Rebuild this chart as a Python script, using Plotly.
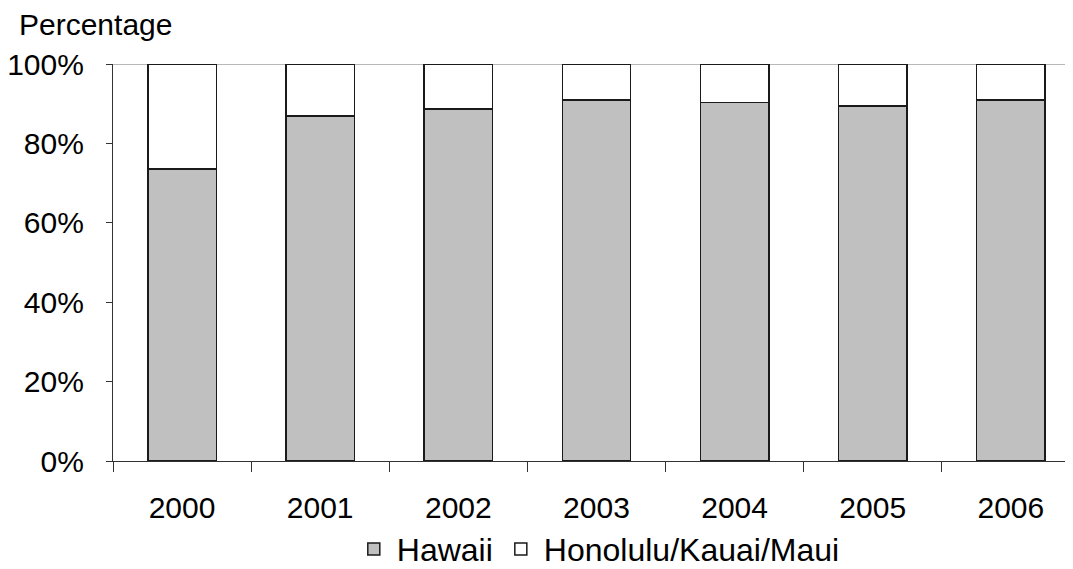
import plotly.graph_objects as go

years = ["2000", "2001", "2002", "2003", "2004", "2005", "2006"]
hawaii = [73.5, 86.9, 88.7, 90.9, 90.3, 89.4, 90.9]
others = [round(100 - v, 1) for v in hawaii]
y_ticks = [0, 20, 40, 60, 80, 100]
y_tick_labels = ["0%", "20%", "40%", "60%", "80%", "100%"]

FONT = "Liberation Sans, Arial, sans-serif"

fig = go.Figure()
fig.add_trace(go.Bar(
    x=years, y=hawaii, name="Hawaii",
    marker=dict(color="#c0c0c0", line=dict(color="#1a1a1a", width=1.5)),
))
fig.add_trace(go.Bar(
    x=years, y=others, name="Honolulu/Kauai/Maui",
    marker=dict(color="#ffffff", line=dict(color="#1a1a1a", width=1.5)),
))

fig.add_shape(type="line", xref="paper", yref="y", x0=0, x1=1, y0=100, y1=100,
              line=dict(color="#a0a0a0", width=1.5), layer="below")

# page body has an 8px default margin, so the figure is offset by 8px
fig.update_layout(
    barmode="stack",
    bargap=0.505,
    width=1065, height=561,
    margin=dict(l=105, r=0, t=56, b=108, autoexpand=False),
    plot_bgcolor="white", paper_bgcolor="white",
    font=dict(family=FONT, size=30, color="black"),
    showlegend=True,
    legend=dict(orientation="h", x=0.505, xanchor="center", y=-0.222, yanchor="middle",
                font=dict(size=32), traceorder="normal", itemwidth=36,
                tracegroupgap=0),
    annotations=[dict(text="Percentage", xref="paper", yref="paper", x=-0.1, y=1.0,
                      xanchor="left", yanchor="bottom", yshift=21, showarrow=False,
                      font=dict(size=30))],
)
fig.update_xaxes(
    type="category", range=[-0.5, 6.45], automargin=False,
    showline=True, linecolor="#333", linewidth=1.2,
    ticks="outside", tickson="boundaries", ticklen=10, tickcolor="#333",
    showgrid=False, ticklabelstandoff=20, tickfont=dict(size=30),
)
fig.update_yaxes(
    range=[0, 100], tickvals=y_ticks, ticktext=y_tick_labels, automargin=False,
    showline=True, linecolor="#333", linewidth=1.2,
    ticks="outside", ticklen=6, tickcolor="#333",
    showgrid=False, zeroline=False, tickfont=dict(size=30),
    ticklabelstandoff=16,
)

fig.write_html("out.html")
